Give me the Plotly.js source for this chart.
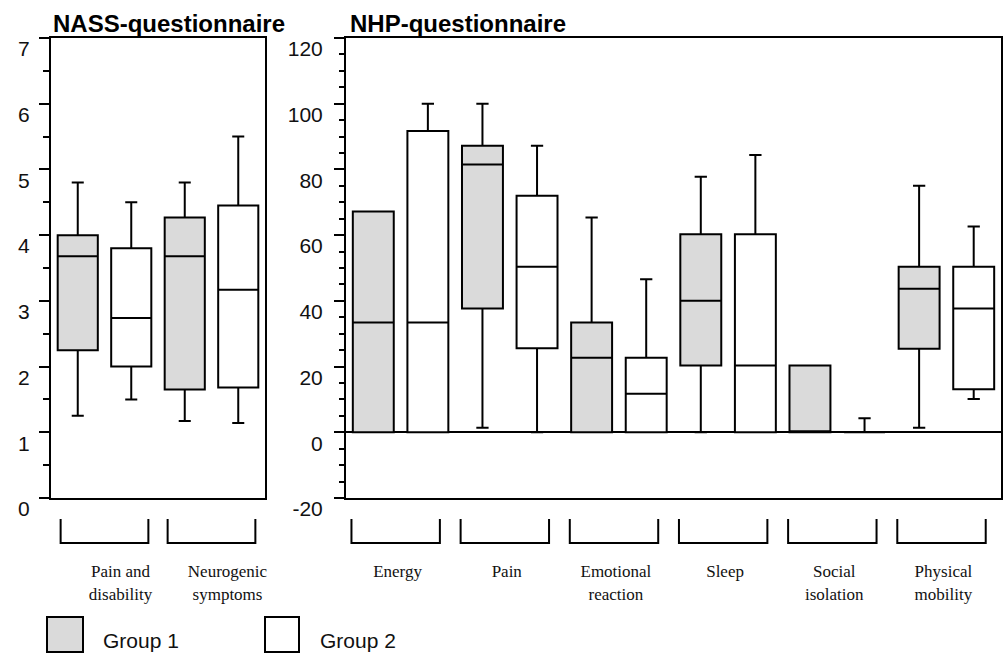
<!DOCTYPE html>
<html>
<head>
<meta charset="utf-8">
<script src="https://cdn.plot.ly/plotly-3.0.1.min.js"></script>
<style>html,body{margin:0;padding:0;background:#fff;}#chart{width:1004px;height:653px;}</style>
</head>
<body>
<div id="chart"></div>
<script>
// ---------- data ----------
var groupNames = ['Group 1', 'Group 2'];
var panelTitles = ['NASS-questionnaire', 'NHP-questionnaire'];

var nassCategories = ['Pain and disability', 'Neurogenic symptoms'];
var nassTickLabels = ['Pain and<br>disability', 'Neurogenic<br>symptoms'];
var nassG1Q1 = [2.25, 1.65];
var nassG1Median = [3.68, 3.68];
var nassG1Q3 = [4.0, 4.27];
var nassG1Lower = [1.25, 1.17];
var nassG1Upper = [4.8, 4.8];
var nassG2Q1 = [2.0, 1.68];
var nassG2Median = [2.74, 3.17];
var nassG2Q3 = [3.8, 4.45];
var nassG2Lower = [1.5, 1.14];
var nassG2Upper = [4.5, 5.5];

var nhpCategories = ['Energy', 'Pain', 'Emotional reaction', 'Sleep', 'Social isolation', 'Physical mobility'];
var nhpTickLabels = ['Energy', 'Pain', 'Emotional<br>reaction', 'Sleep', 'Social<br>isolation', 'Physical<br>mobility'];
var nhpG1Q1 = [0, 37.7, 0, 20.3, 0, 25.4];
var nhpG1Median = [33.4, 81.5, 22.7, 40.0, 0, 43.7];
var nhpG1Q3 = [67.2, 87.2, 33.4, 60.3, 20.3, 50.4];
var nhpG1Lower = [0, 1.4, 0, 0, 0, 1.4];
var nhpG1Upper = [67.2, 100, 65.4, 77.8, 20.3, 75.0];
var nhpG2Q1 = [0, 25.6, 0, 0, 0, 13.1];
var nhpG2Median = [33.4, 50.4, 11.7, 20.3, 0, 37.7];
var nhpG2Q3 = [91.7, 72.0, 22.7, 60.3, 0, 50.4];
var nhpG2Lower = [0, 0, 0, 0, 0, 10.1];
var nhpG2Upper = [100, 87.2, 46.6, 84.4, 4.3, 62.6];

var nassTickVals = [0, 1, 2, 3, 4, 5, 6, 7];
var nassTickText = ['0', '1', '2', '3', '4', '5', '6', '7'];
var nhpTickVals = [-20, 0, 20, 40, 60, 80, 100, 120];
var nhpTickText = ['-20', '0', '20', '40', '60', '80', '100', '120'];

// ---------- styles ----------
var fillColors = ['#dadada', '#ffffff'];
var SANS = 'Liberation Sans, Arial, sans-serif';
var SERIF = 'Liberation Serif, Times New Roman, serif';

function boxTrace(name, fill, x, q1, med, q3, lo, hi, xa, ya, align, off) {
  return {
    type: 'box', name: name, x: x, q1: q1, median: med, q3: q3,
    lowerfence: lo, upperfence: hi, boxpoints: false,
    alignmentgroup: align, offsetgroup: off,
    fillcolor: fill, line: {color: '#000', width: 2}, whiskerwidth: 0.3,
    xaxis: xa, yaxis: ya, showlegend: false, hoverinfo: 'y'
  };
}

var traces = [
  boxTrace(groupNames[0], fillColors[0], nassCategories, nassG1Q1, nassG1Median, nassG1Q3, nassG1Lower, nassG1Upper, 'x', 'y', 'nass', 'g1'),
  boxTrace(groupNames[1], fillColors[1], nassCategories, nassG2Q1, nassG2Median, nassG2Q3, nassG2Lower, nassG2Upper, 'x', 'y', 'nass', 'g2'),
  boxTrace(groupNames[0], fillColors[0], nhpCategories, nhpG1Q1, nhpG1Median, nhpG1Q3, nhpG1Lower, nhpG1Upper, 'x2', 'y2', 'nhp', 'g1'),
  boxTrace(groupNames[1], fillColors[1], nhpCategories, nhpG2Q1, nhpG2Median, nhpG2Q3, nhpG2Lower, nhpG2Upper, 'x2', 'y2', 'nhp', 'g2')
];

// plot-area geometry in pixels
var W = 1004, H = 653, mL = 51, mR = 3, mT = 38, mB = 155;
var plotW = W - mL - mR, plotH = H - mT - mB;
function px2paperX(px) { return (px - mL) / plotW; }
function py2paperY(py) { return (H - mB - py) / plotH; }

var xAxisCommon = {
  type: 'category', showline: true, mirror: true, linecolor: '#000', linewidth: 2,
  ticks: '', showgrid: false, zeroline: false, fixedrange: true,
  tickfont: {family: SERIF, size: 17, color: '#111'}, ticklabelstandoff: 57
};
var yAxisCommon = {
  showline: true, mirror: true, linecolor: '#000', linewidth: 2,
  ticks: 'outside', tickcolor: '#000', tickwidth: 2, showgrid: false,
  tickfont: {family: SANS, size: 21, color: '#111'}, ticklabelshift: 11
};

var shapes = [];
var annotations = [];

// brackets under each category
var bTop = py2paperY(519), bBot = py2paperY(543);
function addBrackets(cats, xref, offL, offR) {
  for (var i = 0; i < cats.length; i++) {
    var a = i + offL, b = i + offR;
    shapes.push({type: 'path', xref: xref, yref: 'paper',
      path: 'M' + a + ',' + bTop + ' L' + a + ',' + bBot + ' L' + b + ',' + bBot + ' L' + b + ',' + bTop,
      line: {color: '#000', width: 2}});
  }
}
addBrackets(nassCategories, 'x', -0.41, 0.41);
addBrackets(nhpCategories, 'x2', -0.45, 0.36);

// panel titles
annotations.push({xref: 'x domain', yref: 'paper', x: 0, y: py2paperY(23), xanchor: 'left', yanchor: 'middle',
  xshift: 0, showarrow: false, text: '<b>' + panelTitles[0] + '</b>', font: {family: SANS, size: 24, color: '#000'}});
annotations.push({xref: 'x2 domain', yref: 'paper', x: 0, y: py2paperY(23), xanchor: 'left', yanchor: 'middle',
  xshift: 2, showarrow: false, text: '<b>' + panelTitles[1] + '</b>', font: {family: SANS, size: 24, color: '#000'}});

// legend (custom squares)
var legendBoxes = [[47, 83], [265, 299]];
var legendText = [101, 318];
for (var g = 0; g < groupNames.length; g++) {
  shapes.push({type: 'rect', xref: 'paper', yref: 'paper',
    x0: px2paperX(legendBoxes[g][0]), x1: px2paperX(legendBoxes[g][1]),
    y0: py2paperY(617), y1: py2paperY(652),
    fillcolor: fillColors[g], line: {color: '#000', width: 2}});
  annotations.push({xref: 'paper', yref: 'paper', x: px2paperX(legendText[g]), y: py2paperY(640),
    xanchor: 'left', yanchor: 'middle', showarrow: false, text: groupNames[g],
    font: {family: SANS, size: 21, color: '#111'}});
}

var layout = {
  width: W, height: H,
  margin: {l: mL, r: mR, t: mT, b: mB, pad: 0},
  paper_bgcolor: '#fff', plot_bgcolor: '#fff',
  boxmode: 'group', boxgap: 0, boxgroupgap: 0.25,
  showlegend: false,
  xaxis: Object.assign({}, xAxisCommon, {domain: [0, px2paperX(265)], anchor: 'y',
    tickvals: nassCategories, ticktext: nassTickLabels, ticklabelshift: 16, range: [-0.5, 1.5]}),
  xaxis2: Object.assign({}, xAxisCommon, {domain: [px2paperX(346), 1], anchor: 'y2',
    tickvals: nhpCategories, ticktext: nhpTickLabels, ticklabelshift: -3, range: [-0.5, 5.5]}),
  yaxis: Object.assign({}, yAxisCommon, {anchor: 'x', range: [0, 7], tickvals: nassTickVals, ticktext: nassTickText,
    ticklen: 10, zeroline: false, ticklabelstandoff: 5,
    minor: {dtick: 0.5, tick0: 0, ticks: 'outside', ticklen: 6, tickcolor: '#000', tickwidth: 2, showgrid: false}}),
  yaxis2: Object.assign({}, yAxisCommon, {anchor: 'x2', range: [-20, 120], tickvals: nhpTickVals, ticktext: nhpTickText,
    ticklen: 10, zeroline: true, zerolinecolor: '#000', zerolinewidth: 2, ticklabelstandoff: 7,
    minor: {dtick: 5, tick0: 0, ticks: 'outside', ticklen: 5, tickcolor: '#000', tickwidth: 2, showgrid: false}}),
  shapes: shapes,
  annotations: annotations
};

Plotly.newPlot('chart', traces, layout, {displayModeBar: false, staticPlot: true});
</script>
</body>
</html>
